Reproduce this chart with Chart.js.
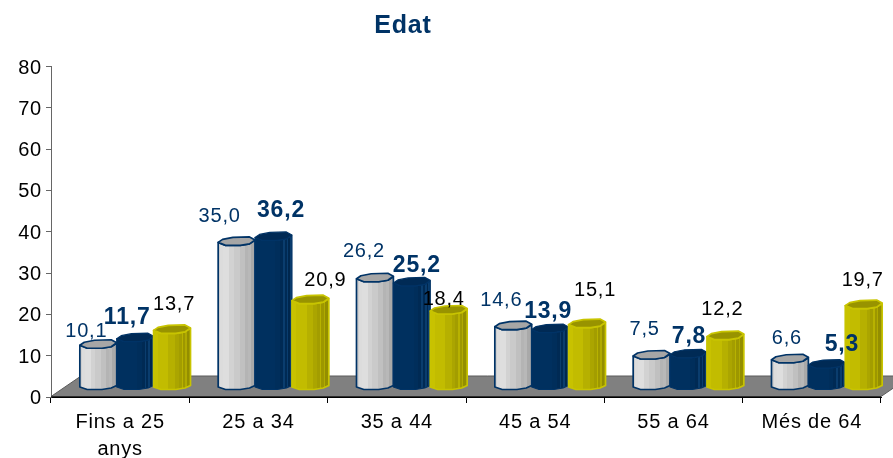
<!DOCTYPE html>
<html><head><meta charset="utf-8">
<style>html,body{margin:0;padding:0;background:#fff}canvas{display:block}</style>
<script src="https://cdn.jsdelivr.net/npm/chart.js@4"></script></head>
<body><canvas id="c" width="893" height="458"></canvas>
<script>
const categories = [['Fins a 25','anys'],'25 a 34','35 a 44','45 a 54','55 a 64','Més de 64'];
const seriesA = [10.1,35.0,26.2,14.6,7.5,6.6];
const seriesB = [11.7,36.2,25.2,13.9,7.8,5.3];
const seriesC = [13.7,20.9,18.4,15.1,12.2,19.7];
const yTicks = [0,10,20,30,40,50,60,70,80];
// hand placement of the value labels, relative to each value's position
const labelDxA = [-12,-17,-11,-12,-7,-3], labelDyA = [-24,-36,-37.5,-36.5,-36.5,-31.5];
const labelDxB = [-8,7.5,5,-2,0.5,15],   labelDyB = [-31.5,-37,-27.5,-27.5,-28.5,-30.5];
const labelDxC = [2,15,-5,8,-3,-1],      labelDyC = [-35.5,-30.5,-21.5,-44.5,-37.5,-35.5];

const FONT='"Liberation Sans", Arial, sans-serif';
const NAVY='#003366';
const depthX=15, depthY=7, floorX=30, floorY=21;
// hard colour bands across a bar: [end of band as share of width, colour]
const styles=[
 {bands:[[.06,'#cfcfcf'],[.14,'#dcdcdc'],[.3,'#dedede'],[.42,'#d2d2d2'],[.58,'#cacaca'],[.72,'#c0c0c0'],[.8,'#b4b4b4'],[.88,'#b8b8b8'],[1,'#a9a9a9']],cap:'#a6a6a6',line:NAVY,lw:1.7},
 {bands:[[.55,'#00305f'],[.68,'#002e5b'],[.76,'#002a54'],[.8,'#0a3d6e'],[.86,'#002a54'],[.9,'#0a3d6e'],[.95,'#00274e'],[1,'#0a3d6e']],cap:'#002a55',line:'#003366',lw:1.2},
 {bands:[[.12,'#c8c200'],[.4,'#c2bc00'],[.58,'#b6b000'],[.68,'#aba500'],[.76,'#a39d00'],[.8,'#b8b200'],[.86,'#9d9700'],[.9,'#b0aa00'],[1,'#938e00']],cap:'#989300',line:'#c8c400',lw:1.7}
];
function facet(ctx,L,w,pts){ctx.beginPath();pts.forEach((p,i)=>{const x=L+p[0]*w;i?ctx.lineTo(x,p[1]):ctx.moveTo(x,p[1]);});ctx.closePath();}
const scene={
 id:'scene',
 afterLayout(chart){
  const t=chart.titleBlock;t.left=0;t.right=806;
  const ys=chart.scales.y,orig=ys.drawLabels;
  ys.drawLabels=function(a){const c=this.ctx;c.save();c.translate(0,1.5);orig.call(this,a);c.restore();};
 },
 beforeDraw(chart){chart.ctx.letterSpacing='0.8px';},
 beforeDatasetsDraw(chart){
  const ctx=chart.ctx,x=chart.scales.x,y=chart.scales.y,b=y.getPixelForValue(0);
  ctx.save();
  ctx.beginPath();ctx.moveTo(x.left,b-.5);ctx.lineTo(x.right,b-.5);ctx.lineTo(x.right+floorX,b-floorY);ctx.lineTo(x.left+floorX,b-floorY);ctx.closePath();
  ctx.fillStyle='#808080';ctx.fill();ctx.strokeStyle='#5a5a5a';ctx.lineWidth=1;ctx.stroke();
  ctx.beginPath();ctx.moveTo(x.left,b);ctx.lineTo(x.right,b);ctx.strokeStyle='#000';ctx.lineWidth=1;ctx.stroke();
  ctx.translate(depthX,-depthY);
  chart.data.datasets.forEach((ds,di)=>{
   const st=styles[di],meta=chart.getDatasetMeta(di);
   meta.data.forEach(el=>{
    const p=el.getProps(['x','y','base','width'],true),w=p.width,L=p.x-w/2,t=p.y,yb=p.base;
    const g=ctx.createLinearGradient(L,0,L+w,0);
    let prev=0;
    st.bands.forEach(s=>{g.addColorStop(prev,s[1]);g.addColorStop(s[0],s[1]);prev=s[0];});
    facet(ctx,L,w,[[0,t-3],[.2,t],[.6,t],[.85,t-1.5],[1,t-5],[1,yb-4],[.85,yb-1.5],[.6,yb],[.2,yb],[0,yb-2.5]]);
    ctx.fillStyle=g;ctx.fill();
    ctx.strokeStyle=st.line;ctx.lineWidth=st.lw;ctx.lineJoin='round';ctx.stroke();
    facet(ctx,L,w,[[0,t-3],[.12,t-6],[.4,t-8],[.85,t-8.5],[1,t-5.5],[.85,t-1.5],[.6,t],[.2,t]]);
    ctx.fillStyle=st.cap;ctx.fill();ctx.stroke();
   });
  });
  ctx.restore();
  return false;
 },
 afterDraw(chart){
  const ctx=chart.ctx,y=chart.scales.y;
  const cfg=[[labelDxA,labelDyA,'normal 20px',NAVY],[labelDxB,labelDyB,'bold 23px',NAVY],[labelDxC,labelDyC,'normal 20px','#000']];
  ctx.save();ctx.textAlign='center';ctx.textBaseline='middle';
  chart.data.datasets.forEach((ds,di)=>{
   const c=cfg[di];ctx.font=c[2]+' '+FONT;ctx.fillStyle=c[3];
   chart.getDatasetMeta(di).data.forEach((el,i)=>{
    ctx.fillText(ds.data[i].toFixed(1).replace('.',','),el.x+depthX+c[0][i],y.getPixelForValue(ds.data[i])+c[1][i]);
   });
  });
  ctx.restore();
 }
};
new Chart(document.getElementById('c'),{
 type:'bar',
 data:{labels:categories,datasets:[
  {label:'A',data:seriesA,backgroundColor:'#c8c8c8'},
  {label:'B',data:seriesB,backgroundColor:NAVY},
  {label:'C',data:seriesC,backgroundColor:'#c8c400'}]},
 plugins:[scene],
 options:{
  responsive:false,animation:false,
  layout:{padding:{left:0,right:12,top:0,bottom:0}},
  categoryPercentage:.8,barPercentage:1,
  plugins:{
   legend:{display:false},tooltip:{enabled:false},
   title:{display:true,text:'Edat',color:NAVY,font:{family:FONT,size:25,weight:'bold'},padding:{top:11.5,bottom:25},fullSize:true}
  },
  scales:{
   x:{grid:{drawOnChartArea:false,offset:true,color:'#000',tickLength:6,tickColor:'#000'},border:{color:'#000'},
      ticks:{color:'#000',font:{family:FONT,size:20,lineHeight:1.35},padding:6,maxRotation:0,autoSkip:false},
      afterFit(s){s.height=61;}},
   y:{min:0,max:80,grid:{drawOnChartArea:false,tickLength:5,tickColor:'#666'},border:{color:'#666'},
      afterBuildTicks(s){s.ticks=yTicks.map(v=>({value:v}));},
      ticks:{color:'#000',font:{family:FONT,size:20},padding:4},
      afterFit(s){s.width=51;}}
  }
 }
});
</script></body></html>
